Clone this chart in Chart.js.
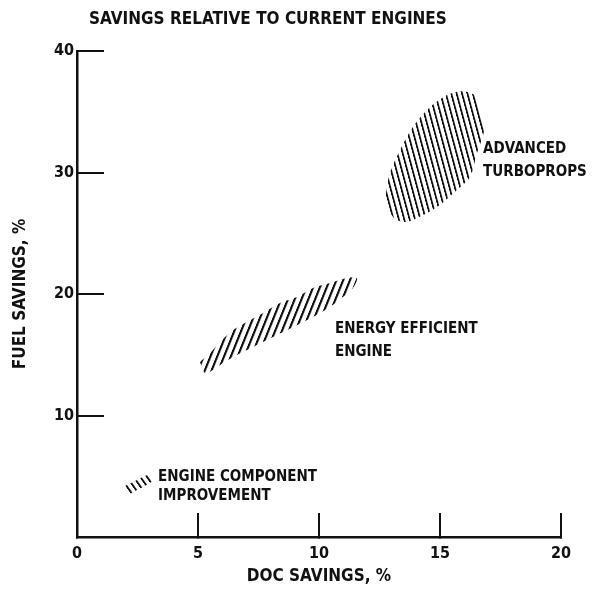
<!DOCTYPE html>
<html>
<head>
<meta charset="utf-8">
<title>Savings relative to current engines</title>
<script src="https://cdn.jsdelivr.net/npm/chart.js@4.4.0/dist/chart.umd.min.js"></script>
<style>
  body { margin: 0; background: #fff; }
  canvas { display: block; }
</style>
</head>
<body>
<canvas id="savingsChart" width="611" height="589"></canvas>
<script>
const xTicks = [0, 5, 10, 15, 20];
const yTicks = [10, 20, 30, 40];

// outlines of the hatched regions (DOC %, fuel %)
const turbopropDoc = [15.83, 16.12, 16.45, 16.65, 16.82, 16.53, 16.24, 15.70, 14.88, 13.88, 13.47, 13.06, 12.81, 12.77, 12.93, 13.35, 13.88, 14.59, 15.29];
const turbopropFuel = [36.71, 36.63, 36.30, 34.98, 33.50, 31.60, 29.63, 28.56, 27.16, 26.09, 25.93, 26.34, 27.49, 28.31, 29.96, 31.85, 33.74, 35.39, 36.38];

const efficientDoc = [5.08, 5.50, 5.91, 6.45, 7.02, 7.69, 8.39, 9.09, 9.75, 10.45, 11.16, 11.57, 11.40, 10.99, 10.45, 9.75, 8.93, 8.10, 7.27, 6.61, 6.03, 5.62, 5.29];
const efficientFuel = [14.40, 15.14, 16.05, 17.04, 17.70, 18.44, 19.26, 19.75, 20.49, 20.91, 21.32, 21.32, 20.49, 19.75, 18.93, 18.11, 17.28, 16.46, 15.64, 14.98, 14.32, 13.74, 13.50];

const componentDoc = [1.98, 2.40, 2.81, 3.02, 3.14, 2.81, 2.40, 2.11];
const componentFuel = [4.20, 4.61, 5.02, 5.10, 4.69, 4.20, 3.79, 3.54];

const labelText = ['ADVANCED', 'TURBOPROPS', 'ENERGY EFFICIENT', 'ENGINE', 'ENGINE COMPONENT', 'IMPROVEMENT'];
const labelDoc = [16.78, 16.78, 10.66, 10.66, 3.35, 3.35];
const labelFuel = [31.93, 30.04, 17.12, 15.23, 4.94, 3.37];

const FONT = "'Liberation Sans Narrow', 'DejaVu Sans Condensed', sans-serif";
const INK = '#111';

Chart.defaults.font.family = FONT;
Chart.defaults.font.weight = 'bold';
Chart.defaults.color = INK;

// parallel hatch lines, spacing in px, angle in degrees from vertical
function hatch(spacing, angle) {
  const tile = document.createElement('canvas');
  tile.width = 10;
  tile.height = 10;
  const t = tile.getContext('2d');
  t.fillStyle = INK;
  t.fillRect(0, 0, 3.4, 10);
  const p = t.createPattern(tile, 'repeat');
  const s = spacing / 10;
  p.setTransform(new DOMMatrix().rotateSelf(angle).scaleSelf(s, s));
  return p;
}

function region(xs, ys, pattern) {
  const pts = xs.map((x, i) => ({ x: x, y: ys[i] }));
  pts.push(pts[0]);
  return {
    data: pts,
    fill: 'shape',
    backgroundColor: pattern,
    borderColor: 'rgba(0,0,0,0)',
    borderWidth: 0,
    pointRadius: 0,
    pointHoverRadius: 0,
    tension: 0.3
  };
}

const regionLabels = {
  id: 'regionLabels',
  afterDatasetsDraw(chart) {
    const { ctx, scales: { x, y } } = chart;
    ctx.save();
    ctx.font = 'bold 15px ' + FONT;
    ctx.fillStyle = INK;
    ctx.textBaseline = 'middle';
    labelText.forEach((t, i) => {
      ctx.fillText(t, x.getPixelForValue(labelDoc[i]), y.getPixelForValue(labelFuel[i]));
    });
    ctx.restore();
  }
};

// the heading sits a little right of the axis
const titleShift = {
  id: 'titleShift',
  afterLayout(chart) {
    if (chart.titleBlock) chart.titleBlock.left += 12;
  }
};

new Chart(document.getElementById('savingsChart'), {
  type: 'line',
  data: {
    datasets: [
      region(turbopropDoc, turbopropFuel, hatch(5.2, -15)),
      region(efficientDoc, efficientFuel, hatch(6.3, 22)),
      region(componentDoc, componentFuel, hatch(5.5, -35))
    ]
  },
  options: {
    responsive: false,
    animation: false,
    events: [],
    layout: { padding: { left: 0, right: 50, top: 0, bottom: 0 } },
    plugins: {
      legend: { display: false },
      tooltip: { enabled: false },
      title: {
        display: true,
        text: 'SAVINGS RELATIVE TO CURRENT ENGINES',
        align: 'start',
        fullSize: false,
        color: INK,
        font: { size: 17, weight: 'bold' },
        padding: { top: 9, bottom: 21.6 }
      }
    },
    scales: {
      x: {
        type: 'linear',
        min: 0,
        max: 20,
        afterBuildTicks: s => { s.ticks = xTicks.map(v => ({ value: v })); },
        afterFit: s => { s.height = 52; },
        grid: { drawOnChartArea: false, drawTicks: true, tickLength: -24, color: INK, lineWidth: 2 },
        border: { display: true, color: INK, width: 2.5 },
        ticks: { padding: 31.4, maxRotation: 0, color: INK, font: { size: 16 } },
        title: {
          display: true,
          text: 'DOC SAVINGS, %',
          color: INK,
          font: { size: 17 },
          padding: { top: 0, bottom: 2 }
        }
      },
      y: {
        type: 'linear',
        min: 0,
        max: 40,
        afterBuildTicks: s => { s.ticks = yTicks.map(v => ({ value: v })); },
        afterFit: s => { s.width = 77; },
        grid: { drawOnChartArea: false, drawTicks: true, tickLength: -27, color: INK, lineWidth: 2 },
        border: { display: true, color: INK, width: 2.5 },
        ticks: { padding: 30, color: INK, font: { size: 16 } },
        title: {
          display: true,
          text: 'FUEL SAVINGS, %',
          color: INK,
          font: { size: 17 },
          padding: { top: 10, bottom: 0 }
        }
      }
    }
  },
  plugins: [regionLabels, titleShift]
});
</script>
</body>
</html>
